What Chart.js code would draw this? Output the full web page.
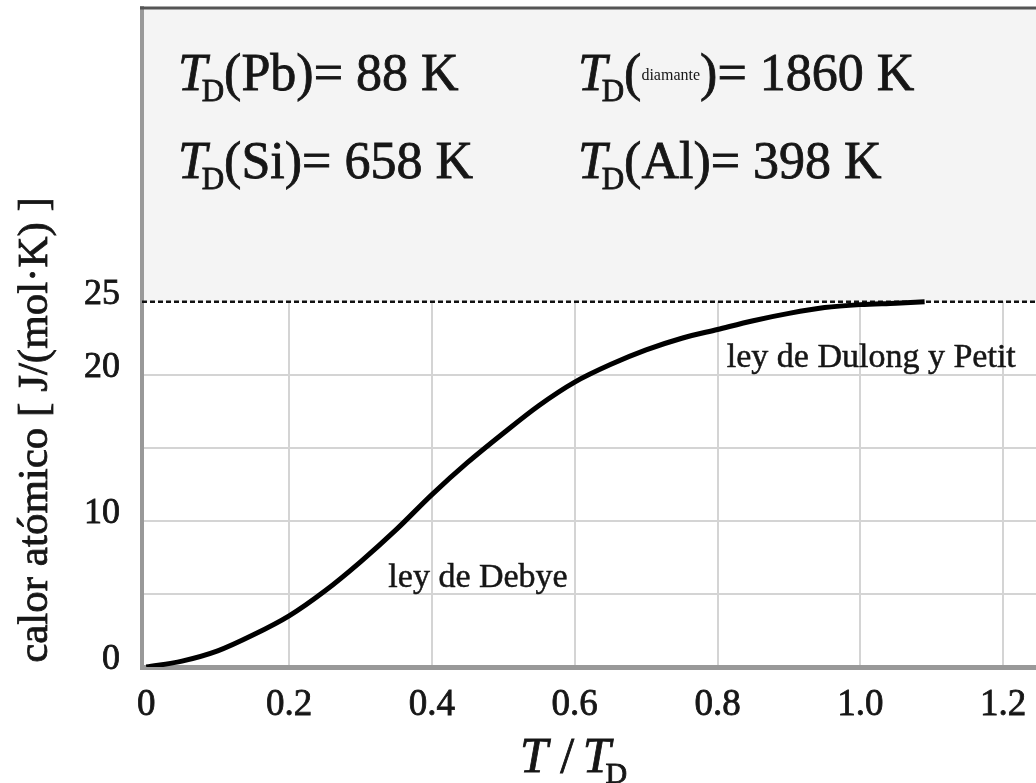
<!DOCTYPE html>
<html>
<head>
<meta charset="utf-8">
<title>Calor atómico - ley de Debye</title>
<script src="https://cdn.jsdelivr.net/npm/chart.js@4.4.1/dist/chart.umd.min.js"></script>
<style>
  html, body { margin: 0; padding: 0; background: #fff; }
  #wrap { width: 1036px; height: 783px; }
</style>
</head>
<body>
<div id="wrap"><canvas id="chart" width="1036" height="783"></canvas></div>
<script>
// datos
const tRatio = [0, 0.05, 0.1, 0.15, 0.2, 0.25, 0.3, 0.35, 0.4, 0.45, 0.5, 0.55, 0.6,
  0.65, 0.7, 0.75, 0.8, 0.85, 0.9, 0.95, 1.0, 1.05, 1.09];
const calorAtomico = [0, 0.4, 1.1, 2.2, 3.5, 5.2, 7.2, 9.4, 11.8, 14.0, 16.0, 17.9, 19.5,
  20.7, 21.7, 22.5, 23.1, 23.7, 24.2, 24.6, 24.8, 24.9, 25.0];
const dulongPetit = 25;

const xTicks = [0, 0.2, 0.4, 0.6, 0.8, 1.0, 1.2];
const xTickLabels = ['0', '0.2', '0.4', '0.6', '0.8', '1.0', '1.2'];
const yTicks = [0, 5, 10, 15, 20, 25];
const yTickLabels = ['0', '', '10', '', '20', '25'];

const xMin = -0.006, xMax = 1.246;
const yMin = 0, yMax = 45.1;

// temperaturas de Debye (texto del recuadro)
const debyeTemps = [
  { sym: 'Pb', value: '88 K' },
  { sym: 'diamante', value: '1860 K', small: true },
  { sym: 'Si', value: '658 K' },
  { sym: 'Al', value: '398 K' }
];

const SERIF = "'Liberation Serif', 'DejaVu Serif', serif";
const INK = '#161616';

// texto algo más grueso, como en la figura original
function heavyText(ctx, txt, x, y) {
  ctx.fillText(txt, x, y);
  ctx.strokeText(txt, x, y);
}

// dibuja T con subíndice D y devuelve la x final
function drawTD(ctx, x, y, size) {
  ctx.font = `italic ${size}px ${SERIF}`;
  heavyText(ctx, 'T', x, y);
  x += ctx.measureText('T').width - size * 0.1;
  const sub = Math.round(size * 0.6);
  ctx.font = `${sub}px ${SERIF}`;
  heavyText(ctx, 'D', x, y + size * 0.22);
  return x + ctx.measureText('D').width;
}

const annotations = {
  id: 'annotations',
  beforeDatasetsDraw(chart) {
    const { ctx, chartArea, scales } = chart;
    const y25 = scales.y.getPixelForValue(dulongPetit);
    ctx.save();
    // zona superior sin rejilla
    ctx.fillStyle = '#f4f4f4';
    ctx.fillRect(chartArea.left + 2, chartArea.top, chartArea.right - chartArea.left, y25 - chartArea.top);
    // borde superior
    ctx.strokeStyle = '#555';
    ctx.lineWidth = 3;
    ctx.beginPath();
    ctx.moveTo(chartArea.left - 2, chartArea.top);
    ctx.lineTo(chartArea.right, chartArea.top);
    ctx.stroke();
    ctx.restore();
  },
  afterDatasetsDraw(chart) {
    const { ctx, scales } = chart;
    ctx.save();
    ctx.fillStyle = INK;
    ctx.strokeStyle = INK;
    ctx.lineWidth = 0.8;
    ctx.textAlign = 'left';
    ctx.textBaseline = 'alphabetic';

    // recuadro con T_D
    const size = 52;
    const cols = [178, 578];
    const rows = [90, 178];
    debyeTemps.forEach((d, i) => {
      let x = drawTD(ctx, cols[i % 2], rows[Math.floor(i / 2)], size);
      const y = rows[Math.floor(i / 2)];
      ctx.font = `${size}px ${SERIF}`;
      if (d.small) {
        heavyText(ctx, '(', x, y);
        x += ctx.measureText('(').width;
        ctx.font = `${Math.round(size * 0.3)}px ${SERIF}`;
        ctx.fillText(d.sym, x, y - size * 0.2);
        x += ctx.measureText(d.sym).width;
        ctx.font = `${size}px ${SERIF}`;
        heavyText(ctx, ')= ' + d.value, x, y);
      } else {
        heavyText(ctx, '(' + d.sym + ')= ' + d.value, x, y);
      }
    });

    // etiquetas de las leyes
    ctx.lineWidth = 0.5;
    ctx.font = `34px ${SERIF}`;
    heavyText(ctx, 'ley de Debye', scales.x.getPixelForValue(0.339), scales.y.getPixelForValue(5.5));
    heavyText(ctx, 'ley de Dulong y Petit', scales.x.getPixelForValue(0.813), scales.y.getPixelForValue(20.5));

    // título eje x: T / T_D
    ctx.lineWidth = 0.8;
    let tx = 520, ty = 772;
    ctx.font = `italic 50px ${SERIF}`;
    heavyText(ctx, 'T', tx, ty);
    tx += ctx.measureText('T').width;
    ctx.font = `50px ${SERIF}`;
    heavyText(ctx, ' / ', tx, ty);
    tx += ctx.measureText(' / ').width - 4;
    drawTD(ctx, tx, ty, 50);

    // título eje y
    ctx.translate(47, 430);
    ctx.rotate(-Math.PI / 2);
    ctx.textAlign = 'center';
    ctx.font = `43px ${SERIF}`;
    heavyText(ctx, 'calor atómico [ J/(mol·K) ]', 0, 0);
    ctx.restore();
  }
};

const ctx = document.getElementById('chart').getContext('2d');

new Chart(ctx, {
  type: 'line',
  data: {
    datasets: [
      {
        label: 'ley de Debye',
        data: tRatio.map((t, i) => ({ x: t, y: calorAtomico[i] })),
        borderColor: '#000',
        borderWidth: 5,
        pointRadius: 0,
        cubicInterpolationMode: 'monotone',
        fill: false
      },
      {
        label: 'ley de Dulong y Petit',
        data: [{ x: xMin, y: dulongPetit }, { x: xMax, y: dulongPetit }],
        borderColor: '#111',
        borderWidth: 2.5,
        borderDash: [5, 3],
        pointRadius: 0,
        fill: false
      }
    ]
  },
  options: {
    responsive: false,
    animation: false,
    devicePixelRatio: 1,
    layout: { padding: { top: 8, right: 0, bottom: 0, left: 0 } },
    plugins: {
      legend: { display: false },
      tooltip: { enabled: false }
    },
    scales: {
      x: {
        type: 'linear',
        min: xMin,
        max: xMax,
        afterBuildTicks: scale => { scale.ticks = xTicks.map(v => ({ value: v })); },
        afterFit: scale => {
          scale.height = 116;
          scale.paddingLeft = 0;
          scale.paddingRight = 0;
        },
        ticks: {
          callback: (value, index) => xTickLabels[index],
          font: { family: SERIF, size: 37 },
          color: INK,
          textStrokeColor: INK,
          textStrokeWidth: 0.8,
          padding: 16,
          maxRotation: 0,
          autoSkip: false
        },
        grid: {
          drawTicks: false,
          lineWidth: 2,
          color: c => (c.tick && c.tick.value === 0 ? 'rgba(0,0,0,0)' : '#d4d4d4')
        },
        border: { display: true, color: '#999', width: 5 }
      },
      y: {
        type: 'linear',
        min: yMin,
        max: yMax,
        afterBuildTicks: scale => { scale.ticks = yTicks.map(v => ({ value: v })); },
        afterFit: scale => {
          scale.width = 142;
          scale.paddingTop = 0;
          scale.paddingBottom = 0;
        },
        ticks: {
          callback: (value, index) => yTickLabels[index],
          font: { family: SERIF, size: 36 },
          color: INK,
          textStrokeColor: INK,
          textStrokeWidth: 0.8,
          padding: 22,
          labelOffset: -7,
          autoSkip: false
        },
        grid: {
          drawTicks: false,
          lineWidth: 2,
          color: c => (c.tick && (c.tick.value === 0 || c.tick.value === 25) ? 'rgba(0,0,0,0)' : '#d4d4d4')
        },
        border: { display: true, color: '#999', width: 4 }
      }
    }
  },
  plugins: [annotations]
});
</script>
</body>
</html>
